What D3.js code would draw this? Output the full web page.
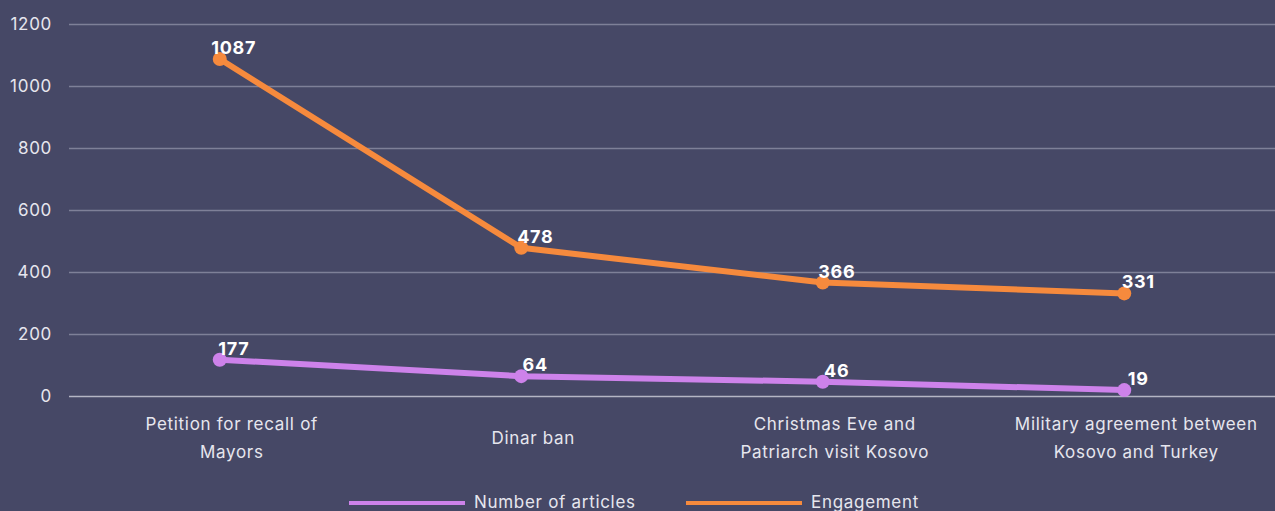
<!DOCTYPE html>
<html><head><meta charset="utf-8">
<script src="https://cdn.jsdelivr.net/npm/d3@7"></script>
<style>
html,body{margin:0;padding:0;background:#464866;}
svg{display:block;font-family:Inter,"Noto Sans",sans-serif;letter-spacing:0.7px;}
</style></head><body>
<svg id="c" width="1275" height="511"></svg>
<script>
const categories = [["Petition for recall of","Mayors"],["Dinar ban"],["Christmas Eve and","Patriarch visit Kosovo"],["Military agreement between","Kosovo and Turkey"]];
const articles = [117, 64, 46, 19];
const articleLabels = ["177", "64", "46", "19"];
const engagement = [1087, 478, 366, 331];
const engagementLabels = ["1087", "478", "366", "331"];
const yTicks = [0, 200, 400, 600, 800, 1000, 1200];
const seriesNames = ["Number of articles", "Engagement"];

(function(){
const svg = d3.select("#c");
const pL = 69, pR = 1275, pT = 24, pB = 396;
const x = d3.scaleBand().domain(d3.range(categories.length)).range([pL, pR]);
const y = d3.scaleLinear().domain([0, 1200]).range([pB, pT]);
const cx = i => x(i) + x.bandwidth()/2;

const yAxis = d3.axisLeft(y).tickValues(yTicks).tickFormat(d3.format("d")).tickSize(-(pR-pL)).tickPadding(17);
const gy = svg.append("g").attr("transform", `translate(${pL},0)`).call(yAxis);
gy.select(".domain").remove();
gy.selectAll(".tick line").attr("stroke", d => d===0 ? "#b4b5c4" : "#7e8098").attr("stroke-width", 1.3);
gy.selectAll(".tick text").attr("fill", "#e6e6ee").attr("font-size", 17).attr("font-family","Inter,sans-serif");

const gx = svg.append("g");
categories.forEach((lines, i) => {
  const t = gx.append("text").attr("text-anchor","middle")
    .attr("fill","#e6e6ee").attr("font-size",17);
  const y0 = lines.length === 1 ? 444 : 430;
  lines.forEach((l, j) => t.append("tspan").attr("x", cx(i) + 12).attr("y", y0 + j*28).text(l));
});

const series = [
  {vals: articles, labels: articleLabels, color: "#cd82ea"},
  {vals: engagement, labels: engagementLabels, color: "#f68a3d"}
];
const line = d3.line().x((d,i)=>cx(i)).y(d=>y(d));
series.forEach(s => {
  svg.append("path").datum(s.vals).attr("d", line).attr("fill","none")
    .attr("stroke", s.color).attr("stroke-width", 6).attr("stroke-linejoin","round");
  svg.selectAll(null).data(s.vals).enter().append("circle")
    .attr("cx",(d,i)=>cx(i)).attr("cy",d=>y(d)).attr("r",7).attr("fill",s.color);
  svg.selectAll(null).data(s.vals).enter().append("text")
    .attr("x",(d,i)=>cx(i)+14).attr("y",d=>y(d)-5).attr("text-anchor","middle")
    .attr("fill","#ffffff").attr("font-size",18).attr("font-weight",700)
    .text((d,i)=>s.labels[i]);
});

const legX = [349, 686];
series.forEach((s, i) => {
  svg.append("line").attr("x1", legX[i]).attr("x2", legX[i]+116).attr("y1",503).attr("y2",503)
    .attr("stroke", s.color).attr("stroke-width", 4);
  svg.append("text").attr("x", legX[i]+125).attr("y", 508).attr("fill","#e6e6ee")
    .attr("font-size",17).text(seriesNames[i]);
});
})();
</script>
</body></html>
